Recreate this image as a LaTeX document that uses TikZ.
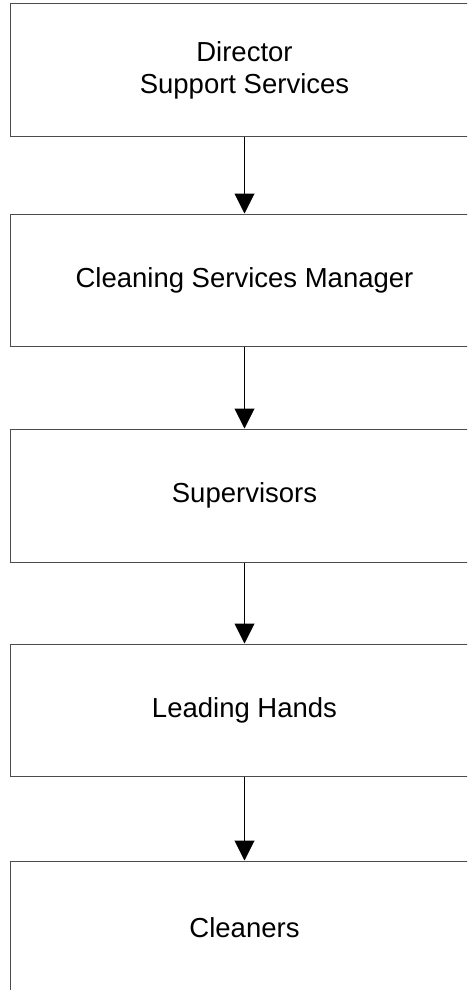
\documentclass[tikz,border=0pt]{standalone}
\usepackage{fontspec}
\setmainfont{Liberation Sans}
\usetikzlibrary{arrows.meta}
\begin{document}
\begin{tikzpicture}[x=1pt,y=-1pt,
  box/.style={draw=black!70,line width=1pt,rectangle,minimum width=468pt,
    minimum height=133pt,inner sep=0pt,align=center,
    font=\fontsize{27.5}{32}\selectfont},
  conn/.style={draw=black,line width=1pt,-{Triangle[width=20pt,length=20pt]}}]
\useasboundingbox (0,0) rectangle (467,990);
\clip (0,0) rectangle (467,990);
\node[box] (b1) at (244.5,70) {Director\\Support Services};
\node[box,minimum height=132pt] (b2) at (244.5,280) {Cleaning Services Manager};
\node[box] (b3) at (244.5,495.5) {Supervisors};
\node[box,minimum height=132pt] (b4) at (244.5,710) {Leading Hands};
\node[box] (b5) at (244.5,927.5) {Cleaners};
\draw[conn] (b1.south) -- (b2.north);
\draw[conn] (b2.south) -- (b3.north);
\draw[conn] (b3.south) -- (b4.north);
\draw[conn] (b4.south) -- (b5.north);
\end{tikzpicture}
\end{document}
